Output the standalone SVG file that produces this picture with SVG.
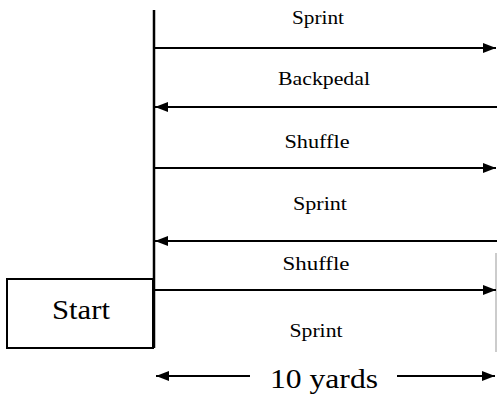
<svg xmlns="http://www.w3.org/2000/svg" width="497" height="400" viewBox="0 0 497 400">
<defs>
<marker id="ah" viewBox="0 0 13 10" refX="13" refY="5" markerWidth="13" markerHeight="10" markerUnits="userSpaceOnUse" orient="auto-start-reverse">
<path d="M0,0 L13,5 L0,10 Z" fill="#000"/>
</marker>
<style>
.lbl{font-family:"Liberation Serif","Times New Roman",serif;font-size:19px;fill:#000;text-anchor:middle}
.big{font-family:"Liberation Serif","Times New Roman",serif;fill:#000;text-anchor:middle}
.arr{stroke:#000;stroke-width:2;fill:none}
</style>
</defs>
<rect width="497" height="400" fill="#fff"/>
<g id="start">
<rect x="7" y="279" width="146" height="69" fill="#fff" stroke="#000" stroke-width="2"/>
<text class="big" x="81" y="319" font-size="27" textLength="58" lengthAdjust="spacingAndGlyphs">Start</text>
</g>
<g id="baseline">
<line x1="154" y1="10" x2="154" y2="348" stroke="#000" stroke-width="2.5"/>
<line x1="496" y1="253" x2="496" y2="352" stroke="#999" stroke-width="1"/>
</g>
<g id="connectors">
<line class="arr" x1="154" y1="48" x2="496" y2="48" marker-end="url(#ah)"/>
<line class="arr" x1="155" y1="107" x2="497" y2="107" marker-start="url(#ah)"/>
<line class="arr" x1="154" y1="168" x2="496" y2="168" marker-end="url(#ah)"/>
<line class="arr" x1="155" y1="241" x2="497" y2="241" marker-start="url(#ah)"/>
<line class="arr" x1="154" y1="290" x2="496" y2="290" marker-end="url(#ah)"/>
<line class="arr" x1="156" y1="376" x2="250" y2="376" marker-start="url(#ah)"/>
<line class="arr" x1="397" y1="376" x2="495" y2="376" marker-end="url(#ah)"/>
</g>
<g id="labels">
<text class="lbl" x="318" y="24" textLength="52" lengthAdjust="spacingAndGlyphs">Sprint</text>
<text class="lbl" x="324" y="85" textLength="92" lengthAdjust="spacingAndGlyphs">Backpedal</text>
<text class="lbl" x="317" y="148" textLength="65" lengthAdjust="spacingAndGlyphs">Shuffle</text>
<text class="lbl" x="320" y="210" textLength="54" lengthAdjust="spacingAndGlyphs">Sprint</text>
<text class="lbl" x="316" y="270" textLength="67" lengthAdjust="spacingAndGlyphs">Shuffle</text>
<text class="lbl" x="316" y="337" textLength="53" lengthAdjust="spacingAndGlyphs">Sprint</text>
<text class="big" x="324" y="388" font-size="28" textLength="108" lengthAdjust="spacingAndGlyphs">10 yards</text>
</g>
</svg>
